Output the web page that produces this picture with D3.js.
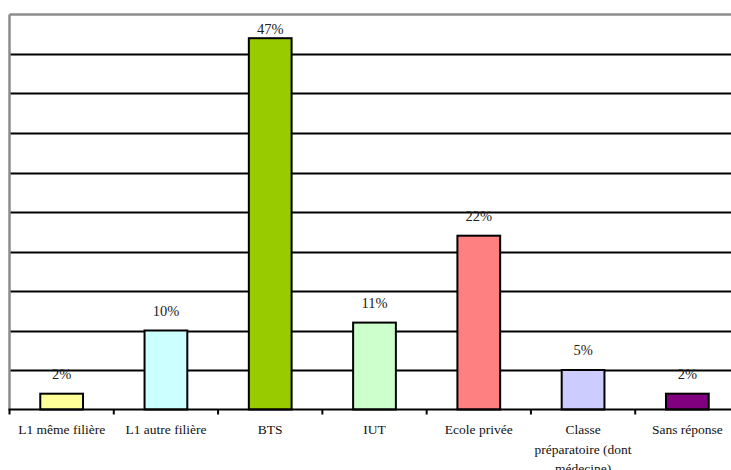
<!DOCTYPE html>
<html><head><meta charset="utf-8">
<script src="https://cdn.jsdelivr.net/npm/d3@7"></script>
<style>body{margin:0;background:#fff}svg{display:block}</style>
</head><body>
<svg id="c" width="731" height="470"></svg>
<script>
const categories = ["L1 même filière","L1 autre filière","BTS","IUT","Ecole privée","Classe préparatoire (dont médecine)","Sans réponse"];
const labelLines = [["L1 même filière"],["L1 autre filière"],["BTS"],["IUT"],["Ecole privée"],["Classe","préparatoire (dont","médecine)"],["Sans réponse"]];
const values = [2,10,47,11,22,5,2];
const valueLabels = ["2%","10%","47%","11%","22%","5%","2%"];
const colors = ["#FFFF99","#CCFFFF","#99CC00","#CCFFCC","#FF8080","#CCCCFF","#800080"];
const gridValues = [5,10,15,20,25,30,35,40,45];

(function(){
const FONT = '"Liberation Serif", "Times New Roman", serif';
const svg = d3.select("#c");
const pL = 9.5, pR = 739.5, pT = 14.5, pB = 409.5;
const x = d3.scaleBand().domain(categories).range([pL, pR]).paddingInner(0.59).paddingOuter(0.295);
const xb = d3.scaleBand().domain(categories).range([pL, pR]);
const y = d3.scaleLinear().domain([0,50]).range([pB, pT]);

// gridlines
svg.append("g").selectAll("line").data(gridValues).join("line")
  .attr("x1", pL).attr("x2", 731).attr("y1", d=>Math.round(y(d))+0.5).attr("y2", d=>Math.round(y(d))+0.5)
  .attr("stroke","#000").attr("stroke-width",2);

// plot border (top & left gray)
svg.append("line").attr("x1",pL).attr("x2",731).attr("y1",pT).attr("y2",pT).attr("stroke","#8c8c8c").attr("stroke-width",2.5);
svg.append("line").attr("x1",pL).attr("x2",pL).attr("y1",pT).attr("y2",pB).attr("stroke","#8c8c8c").attr("stroke-width",2.5);

// bars
svg.append("g").selectAll("rect").data(values).join("rect")
  .attr("x",(d,i)=>x(categories[i])).attr("width",x.bandwidth())
  .attr("y",d=>y(d)).attr("height",d=>pB-y(d))
  .attr("fill",(d,i)=>colors[i]).attr("stroke","#000").attr("stroke-width",2);

// value labels (kept inside the plot area, as the original does)
svg.append("g").selectAll("text").data(values).join("text")
  .attr("x",(d,i)=>x(categories[i])+x.bandwidth()/2).attr("y",d=>Math.max(y(d)-15, pT+19.5))
  .attr("text-anchor","middle")
  .style("font-family",FONT).style("font-size","14.5px").attr("fill","#222").text((d,i)=>valueLabels[i]);

// x axis
const ax = svg.append("g").attr("transform",`translate(0,${pB})`);
ax.append("line").attr("x1",pL-1).attr("x2",731).attr("y1",0).attr("y2",0).attr("stroke","#000").attr("stroke-width",2);
const tickPos = categories.map(c=>xb(c)).concat([pR]);
ax.selectAll("line.t").data(tickPos).join("line").attr("class","t")
  .attr("x1",d=>d).attr("x2",d=>d).attr("y1",0).attr("y2",5).attr("stroke","#000").attr("stroke-width",2);

const lbl = svg.append("g").selectAll("text").data(labelLines).join("text")
  .attr("text-anchor","middle")
  .style("font-family",FONT).style("font-size","13.5px").attr("fill","#111")
  .attr("transform",(d,i)=>`translate(${xb(categories[i])+xb.bandwidth()/2},434)`);
lbl.selectAll("tspan").data(d=>d).join("tspan").attr("x",0).attr("y",(d,j)=>j*19.5).text(d=>d);
})();
</script>
</body></html>
